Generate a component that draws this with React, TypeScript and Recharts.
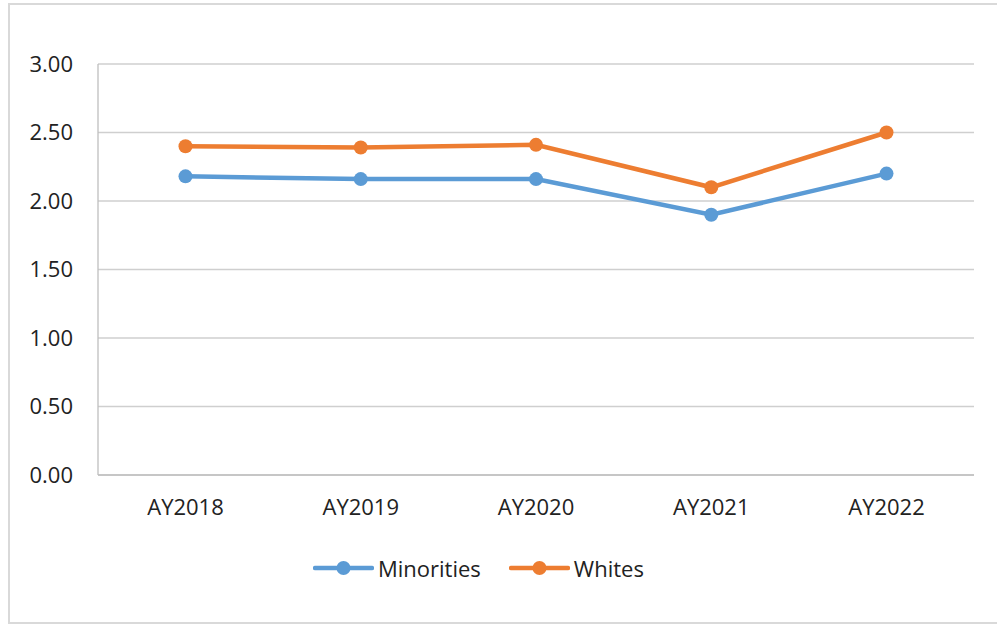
import React from "react";
import { LineChart, Line, XAxis, YAxis, CartesianGrid, Legend } from "recharts";

const categories = ["AY2018", "AY2019", "AY2020", "AY2021", "AY2022"];
const minorities = [2.18, 2.16, 2.16, 1.9, 2.2];
const whites = [2.4, 2.39, 2.41, 2.1, 2.5];
const yTicks = [0, 0.5, 1, 1.5, 2, 2.5, 3];

const data = categories.map((c, i) => ({ name: c, Minorities: minorities[i], Whites: whites[i] }));

const FONT = "'Open Sans', sans-serif";

const LegendContent = (props: any) => {
  const { payload } = props;
  return (
    <div style={{ display: "flex", alignItems: "center", fontFamily: FONT, fontSize: 22, color: "#222" }}>
      {(payload || []).map((p: any, i: number) => (
        <div key={i} style={{ display: "flex", alignItems: "center", marginRight: 28 }}>
          <svg width={61} height={16} style={{ display: "block" }}>
            <line x1={2} y1={8} x2={59} y2={8} stroke={p.color} strokeWidth={4.5} strokeLinecap="round" />
            <circle cx={30.5} cy={8} r={7} fill={p.color} />
          </svg>
          <span style={{ marginLeft: 4, lineHeight: "30px", whiteSpace: "nowrap" }}>{p.value}</span>
        </div>
      ))}
    </div>
  );
};

export default function App() {
  return (
    <div style={{ position: "absolute", left: 0, top: 0, width: 997, height: 628, background: "#fff", overflow: "hidden" }}>
      <div
        style={{
          position: "absolute",
          left: 8,
          top: 3,
          width: 1010,
          height: 621,
          border: "2px solid #D9D9D9",
          boxSizing: "border-box",
        }}
      />
      <div style={{ position: "absolute", left: 0, top: 0 }}>
        <LineChart width={997} height={628} data={data} margin={{ top: 64, right: 23, bottom: 123, left: 38 }}>
          <CartesianGrid vertical={false} stroke="#CFCFCF" strokeWidth={1.3} />
          <XAxis
            dataKey="name"
            padding={{ left: 87.5, right: 87.5 }}
            tickLine={false}
            tickSize={6}
            tickMargin={18}
            axisLine={{ stroke: "#BFBFBF", strokeWidth: 1.3 }}
            tick={{ fill: "#222", fontSize: 22, fontFamily: FONT }}
            height={30}
          />
          <YAxis
            domain={[0, 3]}
            ticks={yTicks}
            tickFormatter={(v: number) => v.toFixed(2)}
            tickLine={false}
            tickSize={6}
            tickMargin={19}
            width={60}
            axisLine={{ stroke: "#BFBFBF", strokeWidth: 1.3 }}
            tick={{ fill: "#222", fontSize: 22, fontFamily: FONT }}
          />
          <Legend
            layout="horizontal"
            verticalAlign="middle"
            align="center"
            content={<LegendContent />}
            wrapperStyle={{ top: 553, left: 313, width: "auto" }}
          />
          <Line
            type="linear"
            dataKey="Minorities"
            stroke="#5B9BD5"
            strokeWidth={4.5}
            dot={{ r: 7, fill: "#5B9BD5", stroke: "#5B9BD5", strokeWidth: 0 }}
            isAnimationActive={false}
          />
          <Line
            type="linear"
            dataKey="Whites"
            stroke="#ED7D31"
            strokeWidth={4.5}
            dot={{ r: 7, fill: "#ED7D31", stroke: "#ED7D31", strokeWidth: 0 }}
            isAnimationActive={false}
          />
        </LineChart>
      </div>
    </div>
  );
}
